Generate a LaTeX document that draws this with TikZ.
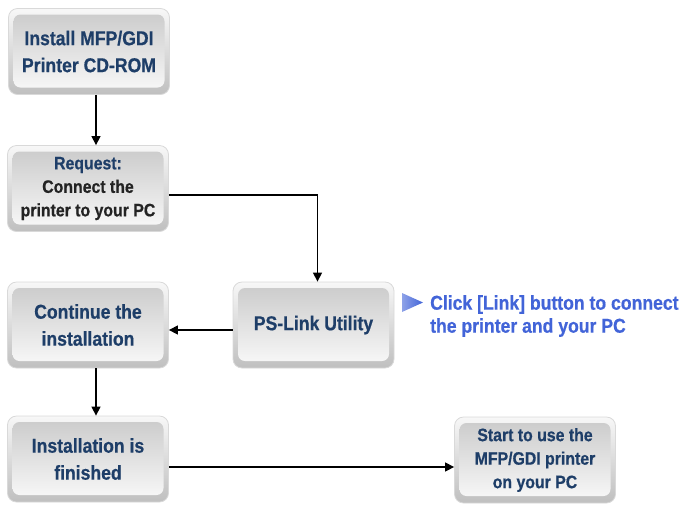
\documentclass[tikz,border=0pt]{standalone}
\usepackage{fontspec}
\setmainfont[FakeStretch=0.88, BoldFeatures={FakeBold=0.6}]{Liberation Sans}
\usetikzlibrary{arrows.meta}
\definecolor{boxtext}{RGB}{30,62,104}
\definecolor{darktext}{RGB}{35,35,35}
\definecolor{hintblue}{RGB}{66,100,216}
\begin{document}
\begin{tikzpicture}[x=1pt,y=1pt,
  stepbox/.style={rounded corners=9pt, draw=gray!30, line width=0.8pt,
    top color=gray!6, bottom color=gray!50,
    minimum width=161pt, minimum height=86pt, align=center,
    font=\bfseries\fontsize{20}{27}\selectfont, text=boxtext,
    path picture={\shade[rounded corners=7pt, top color=gray!42, bottom color=gray!4]
      ([shift={(5pt,-6pt)}]path picture bounding box.north west) rectangle
      ([shift={(-5pt,7pt)}]path picture bounding box.south east);}},
  smallbox/.style={stepbox, font=\bfseries\fontsize{18}{23.5}\selectfont},
  flow/.style={line width=1.3pt, -{Triangle[length=9pt,width=9pt]}}]
\useasboundingbox (0,0) rectangle (690,-512);

% process steps
\node[stepbox]  (cd)     at (89,-51.5)  {Install MFP/GDI\\Printer CD-ROM};
\node[smallbox] (req)    at (88,-188.5) {Request:\\\textcolor{darktext}{Connect the}\\\textcolor{darktext}{printer to your PC}};
\node[stepbox]  (link)   at (313.5,-325) {PS-Link Utility};
\node[stepbox]  (cont)   at (88,-325)   {Continue the\\installation};
\node[stepbox]  (done)   at (88,-459)   {Installation is\\finished};
\node[smallbox] (start)  at (535,-460)  {Start to use the\\MFP/GDI printer\\on your PC};

% connectors
\draw[flow] ([xshift=7pt]cd.south) -- ([xshift=7pt]cd.south |- req.north);
\coordinate (bend) at ([xshift=4pt]link.north |- 0,-195);
\draw[flow] (req.east |- bend) -- (bend) -- ([xshift=4pt]link.north);
\draw[flow] (link.west |- 0,-330) -- (cont.east |- 0,-330);
\draw[flow] ([xshift=8pt]cont.south) -- ([xshift=8pt]cont.south |- done.north);
\draw[flow] (done.east |- 0,-467) -- (start.west |- 0,-467);

% hint beside the utility step
\shade[left color=hintblue!60, right color=hintblue, draw=none]
  (402,-293) -- (423,-302.5) -- (402,-312) -- cycle;
\node[anchor=west, align=left, inner sep=0pt, text=hintblue,
  font=\bfseries\fontsize{20}{23}\selectfont] (hint) at (430,-316)
  {Click [Link] button to connect\\the printer and your PC};
\end{tikzpicture}
\end{document}
